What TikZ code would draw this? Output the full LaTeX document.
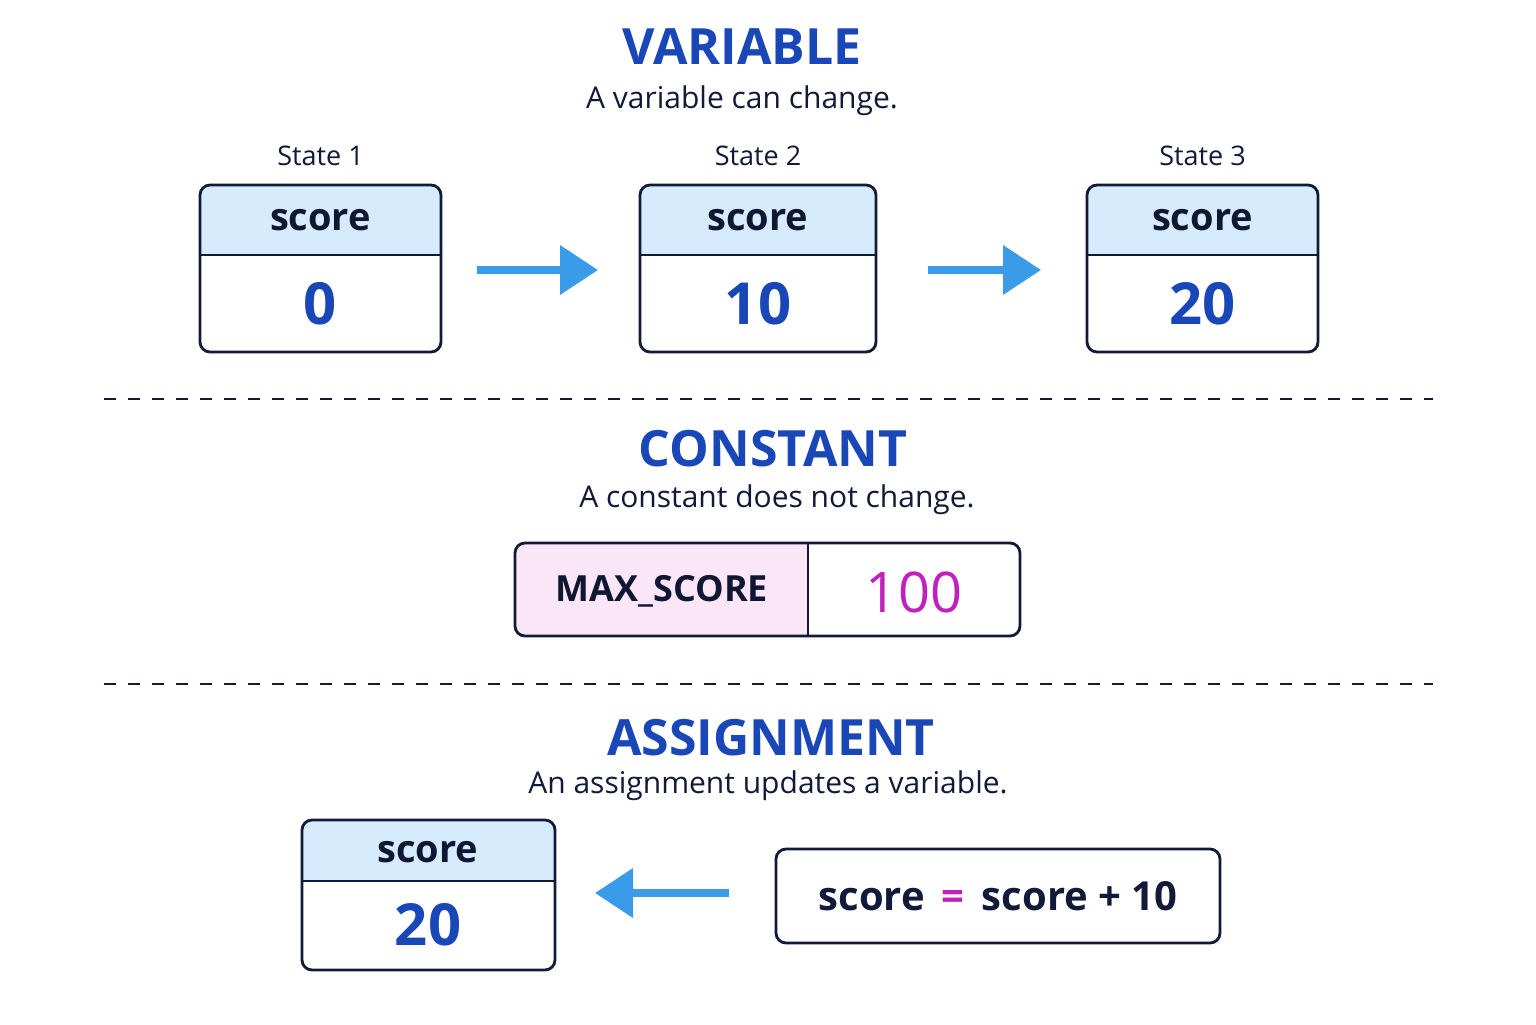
\documentclass[tikz,border=0pt]{standalone}
\usepackage{fontspec}
\setmainfont{Open Sans}
\usetikzlibrary{arrows.meta}
\definecolor{ttl}{HTML}{1A47B8}
\definecolor{navy}{HTML}{111A38}
\definecolor{hdr}{HTML}{D6EBFB}
\definecolor{arr}{HTML}{3A9BE8}
\definecolor{pnk}{HTML}{FBE6F8}
\definecolor{mag}{HTML}{C020C0}
\begin{document}
\begin{tikzpicture}[x=0.5pt,y=-0.5pt,
  title/.style={font=\fontsize{25}{30}\selectfont\bfseries, text=ttl},
  sub/.style={font=\fontsize{15}{18}\selectfont, text=navy},
  lbl/.style={font=\fontsize{13.5}{16}\selectfont, text=navy},
  nm/.style={font=\fontsize{19}{22}\selectfont\bfseries, text=navy!90!black},
  val/.style={font=\fontsize{29}{34}\selectfont\bfseries, text=ttl},
  box/.style={draw=navy, line width=1.4pt, rounded corners=5pt},
  sep/.style={draw=navy, line width=0.8pt, dash pattern=on 6pt off 6pt},
  flow/.style={draw=arr, line width=3.6pt, -{Triangle[length=19pt,width=24pt]}}]
\useasboundingbox (0,0) rectangle (1536,1024);
\fill[white] (0,0) rectangle (1536,1024);
% titles
\node[title] (t1) at (742,47) {VARIABLE};
\node[sub] (s1) at (742,101) {A variable can change.};
\node[title] (t2) at (773,449) {CONSTANT};
\node[sub] (s2) at (777,500) {A constant does not change.};
\node[title] (t3) at (771,738) {ASSIGNMENT};
\node[sub] (s3) at (768,786) {An assignment updates a variable.};
% state boxes
\foreach \n/\xa/\xb/\v in {1/200/441/0, 2/640/876/10, 3/1087/1318/20}{
  \fill[hdr, rounded corners=5pt] (\xa,185) rectangle (\xb,255);
  \fill[hdr] (\xa,230) rectangle (\xb,255);
  \draw[box] (\xa,185) rectangle (\xb,352);
  \draw[navy, line width=1.4pt] (\xa,255) -- (\xb,255);
  \node[lbl] (st\n) at ({(\xa+\xb)/2},156) {State \n};
  \node[nm] (h\n) at ({(\xa+\xb)/2},220) {score};
  \node[val] (v\n) at ({(\xa+\xb)/2},304) {\v};
  \coordinate (L\n) at (\xa,270);
  \coordinate (R\n) at (\xb,270);
}
\draw[flow] ([xshift=18pt]R1) -- ([xshift=-21pt]L2);
\draw[flow] ([xshift=26pt]R2) -- ([xshift=-23pt]L3);
% separators
\coordinate (d1a) at (104,399); \coordinate (d1b) at (1433,399);
\draw[sep] (d1a) -- (d1b);
\coordinate (d2a) at (104,684); \coordinate (d2b) at (1433,684);
\draw[sep] (d2a) -- (d2b);
% constant
\fill[pnk, rounded corners=5pt] (515,543) rectangle (808,636);
\fill[pnk] (780,543) rectangle (808,636);
\draw[box] (515,543) rectangle (1020,636);
\draw[navy, line width=1.4pt] (808,543) -- (808,636);
\node[nm, font=\fontsize{18}{22}\selectfont\bfseries] (cn) at (662,591) {MAX\_SCORE};
\node[val, text=mag, font=\fontsize{28}{34}\selectfont] (cv) at (914,592) {100};
% assignment
\fill[hdr, rounded corners=5pt] (302,820) rectangle (555,881);
\fill[hdr] (302,850) rectangle (555,881);
\draw[box] (302,820) rectangle (555,970);
\draw[navy, line width=1.4pt] (302,881) -- (555,881);
\node[nm] (ah) at (428,852) {score};
\node[val] (av) at (428,925) {20};
\node[box, minimum width=222pt, minimum height=47pt, font=\fontsize{20}{24}\selectfont\bfseries, text=navy] (code) at (998,896)
  {score \,\textcolor{mag}{=}\, score + 10};
\coordinate (ar) at (555,893);
\draw[flow] ([xshift=-23pt]code.west |- ar) -- ([xshift=20pt]ar);
\end{tikzpicture}
\end{document}
